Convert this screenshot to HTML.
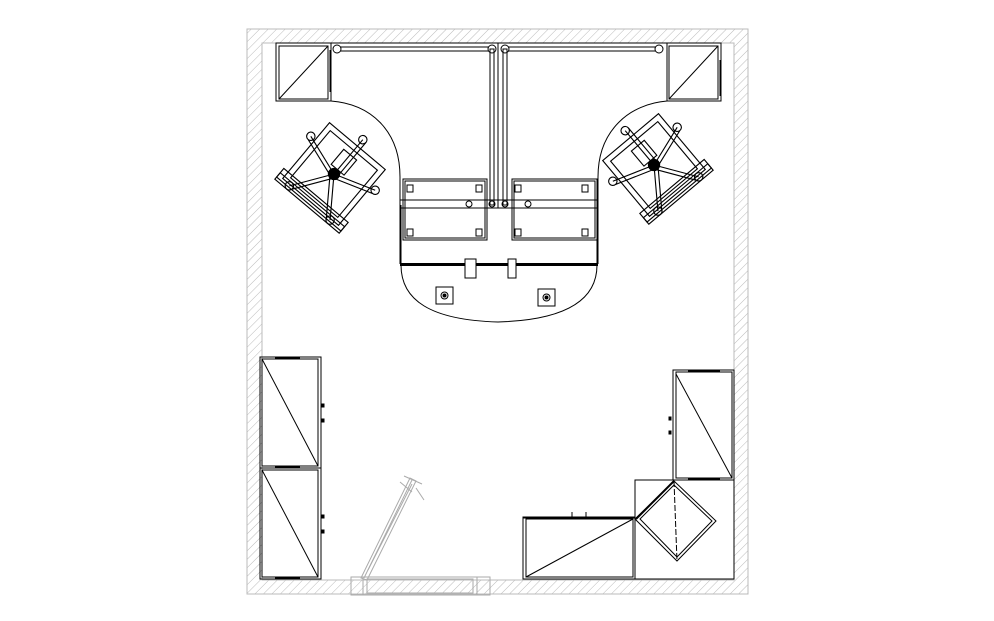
<!DOCTYPE html>
<html><head><meta charset="utf-8"><style>html,body{margin:0;padding:0;background:#fff}svg{display:block}</style></head>
<body>
<svg width="994" height="621" viewBox="0 0 994 621" xmlns="http://www.w3.org/2000/svg">
<defs>
<pattern id="h" width="6" height="6" patternUnits="userSpaceOnUse" patternTransform="rotate(45)">
<line x1="0" y1="0" x2="0" y2="6" stroke="#bbb" stroke-width="1"/>
</pattern>
<g id="chair" fill="none" stroke="#000" stroke-width="0.8">
<rect x="-26" y="-26" width="52" height="52"/>
<rect x="-22" y="-22" width="44" height="44"/>
<rect x="-30" y="20" width="60" height="8"/>
<rect x="-30" y="24" width="60" height="6"/>
<rect x="-6" y="-18" width="12" height="14"/>
<line x1="0" y1="0" x2="0" y2="-32"/><line x1="3" y1="0" x2="3" y2="-32"/>
<line x1="0" y1="0" x2="30" y2="-10"/><line x1="0" y1="3" x2="30" y2="-7"/>
<line x1="0" y1="0" x2="19" y2="27"/><line x1="-2" y1="2" x2="17" y2="29"/>
<line x1="0" y1="0" x2="-19" y2="27"/><line x1="2" y1="2" x2="-17" y2="29"/>
<line x1="0" y1="0" x2="-30" y2="-10"/><line x1="0" y1="3" x2="-30" y2="-7"/>
<circle cx="0" cy="-32" r="3"/><circle cx="30" cy="-10" r="3"/><circle cx="19" cy="27" r="3"/><circle cx="-19" cy="27" r="3"/><circle cx="-30" cy="-10" r="3"/>
<circle cx="0" cy="0" r="4" fill="#000"/>
</g>
</defs>
<path d="M247 29H748V594H247Z M262 43V580H734V43Z" fill="url(#h)" fill-rule="evenodd"/>
<rect x="247" y="29" width="501" height="565" fill="none" stroke="#bbb"/>
<rect x="262" y="43" width="472" height="537" fill="none" stroke="#bbb"/>
<g fill="none" stroke="#000" stroke-width="1">
<rect x="276" y="43" width="55" height="58"/><rect x="279" y="46" width="49" height="53"/><line x1="279" y1="99" x2="328" y2="46"/>
<line x1="330.5" y1="50" x2="330.5" y2="92" stroke-width="2"/>
<rect x="667" y="43" width="54" height="58"/><rect x="669" y="46" width="49" height="53"/><line x1="669" y1="99" x2="718" y2="46"/>
<line x1="720.5" y1="60" x2="720.5" y2="96" stroke-width="2"/>
<path d="M331 43H667V101 C630 104 598 130 598 177 V264 M331 43V101 C370 104 400 130 400 177V264"/>
<path d="M401 265 C401 300 430 320 498 322 C566 320 597 300 597 265"/>
<line x1="400" y1="264.5" x2="598" y2="264.5" stroke-width="3"/>
<line x1="400.5" y1="205" x2="400.5" y2="264" stroke-width="2"/>
<line x1="597.5" y1="205" x2="597.5" y2="264" stroke-width="2"/>
<line x1="498" y1="43" x2="498" y2="208"/>
<rect x="337" y="47" width="155" height="4"/><circle cx="337" cy="49" r="4" fill="#fff"/><circle cx="492" cy="49" r="4" fill="#fff"/>
<rect x="490" y="49" width="4" height="156"/>
<rect x="505" y="47" width="154" height="4"/><circle cx="505" cy="49" r="4" fill="#fff"/><circle cx="659" cy="49" r="4" fill="#fff"/>
<rect x="503" y="49" width="4" height="156"/>
<rect x="403" y="179" width="84" height="61"/><rect x="405" y="181" width="80" height="57"/>
<rect x="512" y="179" width="85" height="61"/><rect x="514" y="181" width="81" height="57"/>
<rect x="400" y="200" width="198" height="8"/>
<circle cx="469" cy="204" r="3"/><circle cx="528" cy="204" r="3"/><circle cx="492" cy="204" r="3"/><circle cx="505" cy="204" r="3"/>
<g fill="#fff" stroke="#000">
<rect x="407" y="185" width="6" height="7"/><rect x="476" y="185" width="6" height="7"/><rect x="407" y="229" width="6" height="7"/><rect x="476" y="229" width="6" height="7"/>
<rect x="515" y="185" width="6" height="7"/><rect x="582" y="185" width="6" height="7"/><rect x="515" y="229" width="6" height="7"/><rect x="582" y="229" width="6" height="7"/>
</g>
<rect x="465" y="259" width="11" height="19" fill="#fff"/><rect x="508" y="259" width="8" height="19" fill="#fff"/>
<rect x="436" y="287" width="17" height="17"/><circle cx="444.5" cy="295.5" r="3.5"/><circle cx="444.5" cy="295.5" r="1.5" fill="#000"/>
<rect x="538" y="289" width="17" height="17"/><circle cx="546.5" cy="297.5" r="3.5"/><circle cx="546.5" cy="297.5" r="1.5" fill="#000"/>
<use href="#chair" transform="translate(334,174) rotate(40) scale(1.4)"/>
<use href="#chair" transform="translate(654,165) rotate(-40) scale(1.4)"/>
<rect x="260" y="357" width="61" height="111"/><rect x="262" y="359" width="56" height="107"/><line x1="262" y1="359" x2="318" y2="466"/>
<rect x="260" y="468" width="61" height="111"/><rect x="262" y="470" width="56" height="107"/><line x1="262" y1="470" x2="318" y2="577"/>
<line x1="275" y1="357.5" x2="300" y2="357.5" stroke-width="2"/><line x1="275" y1="467.5" x2="300" y2="467.5" stroke-width="2"/><line x1="275" y1="578.5" x2="300" y2="578.5" stroke-width="2"/>
<rect x="322" y="404" width="2" height="3" fill="#000"/><rect x="322" y="419" width="2" height="3" fill="#000"/>
<rect x="322" y="515" width="2" height="3" fill="#000"/><rect x="322" y="530" width="2" height="3" fill="#000"/>
<rect x="673" y="370" width="61" height="110"/><rect x="676" y="372" width="56" height="106"/><line x1="676" y1="374" x2="732" y2="478"/>
<line x1="688" y1="371" x2="720" y2="371" stroke-width="2"/><line x1="688" y1="478.5" x2="720" y2="478.5" stroke-width="2"/>
<rect x="669" y="417" width="2" height="3" fill="#000"/><rect x="669" y="431" width="2" height="3" fill="#000"/>
<rect x="635" y="480" width="99" height="99"/>
<path d="M674 481 L716 521 L677 561 L635 519 Z"/><path d="M674 485 L712 521 L677 557 L640 519 Z"/>
<line x1="674" y1="481" x2="677" y2="561" stroke-dasharray="6 2"/>
<line x1="674" y1="481" x2="636" y2="519" stroke-width="2"/>
<rect x="523" y="517" width="112" height="62"/><rect x="526" y="519" width="107" height="58"/><line x1="526" y1="577" x2="633" y2="519"/>
<line x1="523" y1="517.5" x2="635" y2="517.5" stroke-width="2"/>
<line x1="572" y1="512" x2="572" y2="517"/><line x1="586" y1="512" x2="586" y2="517"/>
</g>
<g fill="none" stroke="#aaa" stroke-width="1">
<rect x="351" y="577" width="139" height="18"/><rect x="363" y="577" width="114" height="18"/><rect x="367" y="579" width="106" height="14"/>
<path d="M361 578 L410 478 L416 481 L367 580 Z"/><path d="M364 578 L412 480"/><path d="M368 570 L412 484"/>
<line x1="400" y1="482" x2="412" y2="492"/><line x1="416" y1="488" x2="424" y2="500"/>
<line x1="404" y1="476" x2="422" y2="484"/>
</g>
</svg>
</body></html>
